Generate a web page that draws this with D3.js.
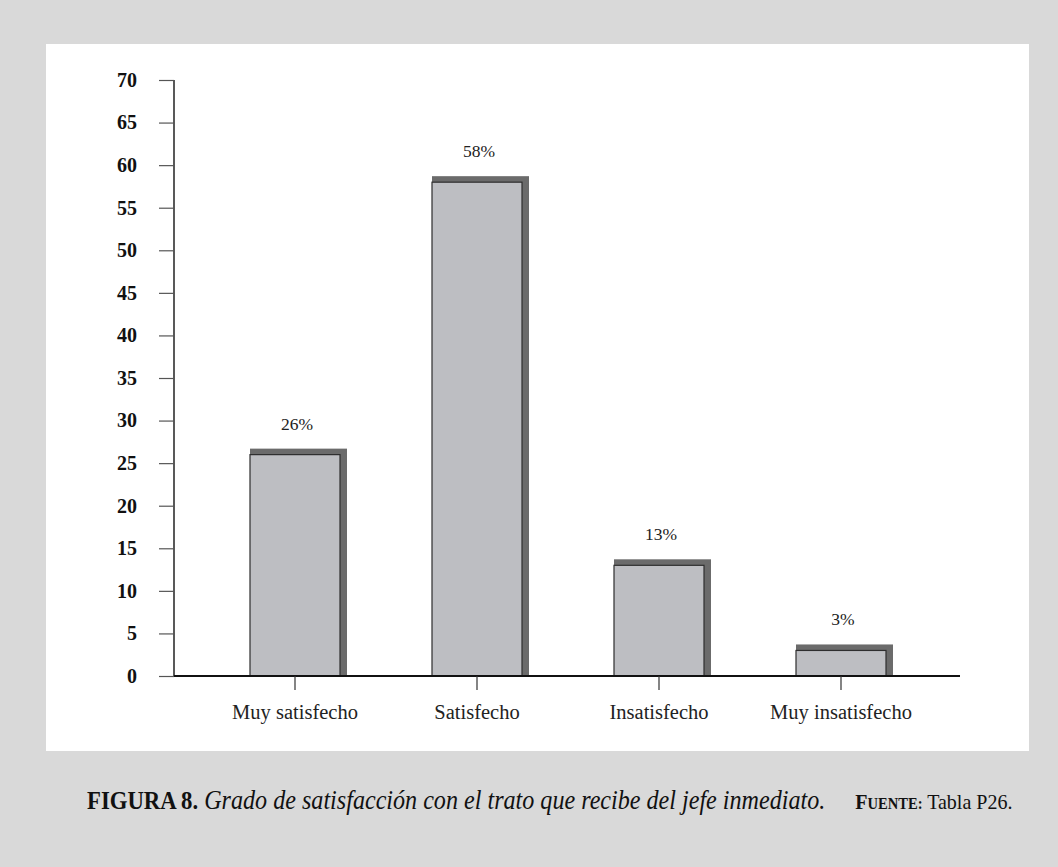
<!DOCTYPE html>
<html>
<head>
<meta charset="utf-8">
<script src="https://cdn.jsdelivr.net/npm/d3@7"></script>
<style>
  body { margin: 0; background: #d9d9d9; }
  svg { display: block; }
</style>
</head>
<body>
<div id="chart"></div>
<script>
'use strict';

// Data
var categories = ['Muy satisfecho', 'Satisfecho', 'Insatisfecho', 'Muy insatisfecho'];
var values = [26, 58, 13, 3];
var valueLabels = ['26%', '58%', '13%', '3%'];
var yTicks = [0, 5, 10, 15, 20, 25, 30, 35, 40, 45, 50, 55, 60, 65, 70];

var W = 1058, H = 867;
var svg = d3.select('#chart').append('svg')
  .attr('width', W).attr('height', H);

svg.append('rect').attr('width', W).attr('height', H).attr('fill', '#d9d9d9');
svg.append('rect').attr('x', 46).attr('y', 44).attr('width', 983).attr('height', 707).attr('fill', '#fff');

var y = d3.scaleLinear().domain([0, 70]).range([676, 80]);
var x = d3.scaleBand().domain(categories).range([204, 932]).padding(0);
var barW = 90, dx = 7, dy = 6;

var g = svg.append('g');

// bars: shadow then front
var bars = g.selectAll('.bar').data(values).enter().append('g');
bars.append('rect')
  .attr('x', function(d, i){ return x(categories[i]) + x.bandwidth()/2 - barW/2 })
  .attr('y', function(d){ return y(d) - dy })
  .attr('width', barW + dx)
  .attr('height', function(d){ return y(0) - y(d) + dy })
  .attr('fill', '#6b6b6b');
bars.append('rect')
  .attr('x', function(d, i){ return x(categories[i]) + x.bandwidth()/2 - barW/2 })
  .attr('y', function(d){ return y(d) })
  .attr('width', barW)
  .attr('height', function(d){ return y(0) - y(d) })
  .attr('fill', '#bdbec2')
  .attr('stroke', '#2e2e2e')
  .attr('stroke-width', 1.2);

bars.append('text')
  .attr('x', function(d, i){ return x(categories[i]) + x.bandwidth()/2 + 2 })
  .attr('y', function(d){ return y(d) - dy - 19 })
  .attr('text-anchor', 'middle')
  .attr('font-family', 'Liberation Serif')
  .attr('font-size', 17.5)
  .attr('fill', '#222')
  .text(function(d, i){ return valueLabels[i] });

// y axis
var yAxis = g.append('g')
  .attr('transform', 'translate(174,0)')
  .call(d3.axisLeft(y).tickValues(yTicks).tickSize(15).tickPadding(22));
yAxis.select('.domain').attr('stroke', '#222').attr('stroke-width', 1.5).attr('d', 'M0,' + y(70) + 'V' + y(0));
yAxis.selectAll('.tick line').attr('stroke', '#555').attr('stroke-width', 1.2);
yAxis.selectAll('.tick text')
  .attr('font-family', 'Liberation Serif')
  .attr('font-weight', 'bold')
  .attr('font-size', 20)
  .attr('fill', '#111');

// x axis
var xAxis = g.append('g')
  .attr('transform', 'translate(0,' + y(0) + ')')
  .call(d3.axisBottom(x).tickSize(14).tickPadding(14));
xAxis.select('.domain').attr('d', 'M174,0H960').attr('stroke', '#111').attr('stroke-width', 2);
xAxis.selectAll('.tick line').attr('stroke', '#333').attr('stroke-width', 1.2);
xAxis.selectAll('.tick text')
  .attr('font-family', 'Liberation Serif')
  .attr('font-size', 20.5)
  .attr('fill', '#222');

// caption
var capG = svg.append('g').attr('transform', 'translate(87,809) scale(0.91,1)');
var cap = capG.append('text')
  .attr('font-family', 'Liberation Serif')
  .attr('font-size', 25)
  .attr('fill', '#111');
cap.append('tspan').attr('font-weight', 'bold').text('FIGURA 8.');
cap.append('tspan').attr('font-style', 'italic').attr('font-size', 26.5).text(' Grado de satisfacción con el trato que recibe del jefe inmediato.');

var capLen = cap.node().getComputedTextLength() * 0.91;
var srcG = svg.append('g').attr('transform', 'translate(' + (87 + capLen + 30) + ',809) scale(0.91,1)');
var src = srcG.append('text')
  .attr('font-family', 'Liberation Serif')
  .attr('font-size', 22)
  .attr('fill', '#111');
src.append('tspan').attr('font-weight', 'bold').text('F');
src.append('tspan').attr('font-weight', 'bold').attr('font-size', 16).text('UENTE:');
src.append('tspan').text(' Tabla P26.');
</script>
</body>
</html>
